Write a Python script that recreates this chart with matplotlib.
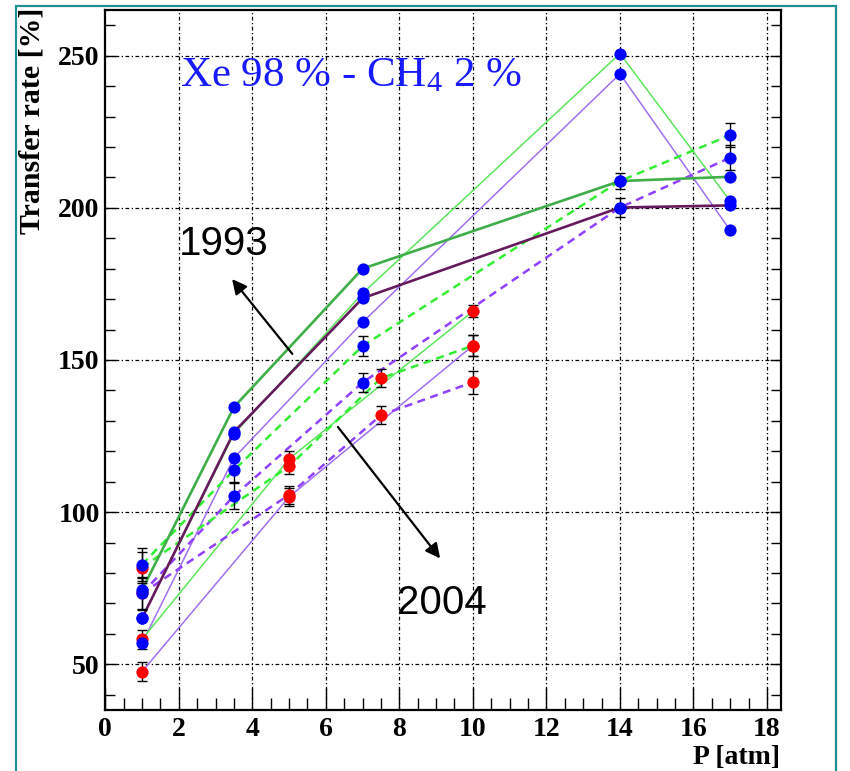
import matplotlib
matplotlib.use("Agg")
import matplotlib.pyplot as plt
from matplotlib.ticker import MultipleLocator
from matplotlib.patches import Rectangle

plt.rcParams['mathtext.fontset'] = 'custom'
plt.rcParams['mathtext.rm'] = 'Liberation Serif'
plt.rcParams['mathtext.it'] = 'Liberation Serif'

# ---- data: 1993 measurements (blue points) ----
x93 = [1, 3.5, 7, 14, 17]
dk_green_93 = [74.4, 134.5, 180.0, 208.8, 210.2]
dk_purple_93 = [65.1, 126.3, 170.3, 200.1, 200.8]
lt_green_93 = [65.1, 125.7, 171.9, 250.7, 202.2]
lt_purple_93 = [56.9, 117.8, 162.4, 244.0, 192.6]
dash_green_93 = [82.8, 113.8, 154.6, 208.8, 223.9]
dash_purple_93 = [73.3, 105.3, 142.6, 200.1, 216.5]
err_dash_green_93 = [5.5, 4.0, 3.3, 2.5, 4.0]
err_dash_purple_93 = [5.5, 4.3, 3.0, 3.0, 4.0]

# ---- data: 2004 measurements (red points) ----
x04_a = [1, 5, 10]
x04_b = [1, 5, 7.5, 10]
lt_green_04 = [58.2, 117.5, 166.0]
lt_purple_04 = [47.6, 105.0, 154.7]
dash_green_04 = [81.8, 115.1, 144.0, 154.7]
dash_purple_04 = [73.3, 105.7, 131.9, 142.7]
err_lt_green_04 = [3.0, 2.5, 2.0]
err_lt_purple_04 = [3.2, 3.0, 3.5]
err_dash_green_04 = [5.0, 2.5, 3.0, 3.5]
err_dash_purple_04 = [5.0, 3.0, 3.0, 3.8]

x_ticks = [0, 2, 4, 6, 8, 10, 12, 14, 16, 18]
y_ticks = [50, 100, 150, 200, 250]

C_DKG = '#3fae49'
C_DKP = '#651a5c'
C_LTG = '#5ce65c'
C_LTP = '#a070f0'
C_DSG = '#33ee33'
C_DSP = '#9040ff'
DASH = (0, (3.2, 2.2))

fig = plt.figure(figsize=(8.5, 7.71), dpi=100)
ax = fig.add_axes([105.2 / 850, 1 - 710 / 771, (781 - 105.2) / 850, (710 - 10) / 771])

# frame around the slide area
fig.patches.append(Rectangle((16 / 850, -0.05), (836 - 16) / 850, 1.05 - 6 / 771,
                             transform=fig.transFigure, fill=False,
                             edgecolor='#1f9090', linewidth=1.6, zorder=0))

ax.set_xlim(0, 18.38)
ax.set_ylim(35, 265)

# grid
for xv in x_ticks[1:]:
    ax.axvline(xv, color='black', lw=0.9, ls=(0, (3, 2, 1, 2)), zorder=1)
for yv in y_ticks:
    ax.axhline(yv, color='black', lw=0.9, ls=(0, (3, 2, 1, 2)), zorder=1)

# lines
ax.plot(x93, lt_green_93, color=C_LTG, lw=1.1, zorder=3)
ax.plot(x93, lt_purple_93, color=C_LTP, lw=1.1, zorder=3)
ax.plot(x04_a, lt_green_04, color=C_LTG, lw=1.1, zorder=3)
ax.plot(x04_a, lt_purple_04, color=C_LTP, lw=1.1, zorder=3)
ax.plot(x93, dash_green_93, color=C_DSG, lw=1.8, ls=DASH, zorder=3)
ax.plot(x93, dash_purple_93, color=C_DSP, lw=1.8, ls=DASH, zorder=3)
ax.plot(x04_b, dash_green_04, color=C_DSG, lw=1.8, ls=DASH, zorder=3)
ax.plot(x04_b, dash_purple_04, color=C_DSP, lw=1.8, ls=DASH, zorder=3)
ax.plot(x93, dk_green_93, color=C_DKG, lw=1.9, zorder=4)
ax.plot(x93, dk_purple_93, color=C_DKP, lw=1.9, zorder=4)

# error bars
eb = dict(fmt='none', ecolor='black', elinewidth=1.0, capsize=3.5, capthick=1.0, zorder=5)
ax.errorbar(x93, dash_green_93, yerr=err_dash_green_93, **eb)
ax.errorbar(x93, dash_purple_93, yerr=err_dash_purple_93, **eb)
ax.errorbar(x04_a, lt_green_04, yerr=err_lt_green_04, **eb)
ax.errorbar(x04_a, lt_purple_04, yerr=err_lt_purple_04, **eb)
ax.errorbar(x04_b, dash_green_04, yerr=err_dash_green_04, **eb)
ax.errorbar(x04_b, dash_purple_04, yerr=err_dash_purple_04, **eb)

# markers: 2004 red, then 1993 blue on top
mk = dict(ls='none', marker='o', ms=8.8, mec='none')
for xs, ys in [(x04_a, lt_green_04), (x04_a, lt_purple_04),
               (x04_b, dash_green_04), (x04_b, dash_purple_04)]:
    ax.plot(xs, ys, color='#ff0000', zorder=6, **mk)
for ys in [dk_green_93, dk_purple_93, lt_green_93, lt_purple_93,
           dash_green_93, dash_purple_93]:
    ax.plot(x93, ys, color='#0000ff', zorder=7, **mk)

# axes styling
for s in ax.spines.values():
    s.set_linewidth(1.6)
ax.xaxis.set_major_locator(MultipleLocator(2))
ax.xaxis.set_minor_locator(MultipleLocator(0.5))
ax.yaxis.set_major_locator(MultipleLocator(50))
ax.yaxis.set_minor_locator(MultipleLocator(10))
ax.tick_params(axis='x', which='major', direction='in', length=16, width=1.0, pad=5)
ax.tick_params(axis='x', which='minor', direction='in', length=8.5, width=1.0)
ax.tick_params(axis='y', which='major', direction='in', length=8, width=1.0, pad=4, right=True)
ax.tick_params(axis='y', which='minor', direction='in', length=7, width=1.0, right=True)
for lab in ax.get_xticklabels() + ax.get_yticklabels():
    lab.set_fontfamily('Liberation Serif')
    lab.set_fontweight('bold')
    lab.set_fontsize(20)

fig.text(32 / 850, 1 - 8 / 771, 'Transfer rate [%]', rotation=90, ha='center', va='top',
         fontfamily='Liberation Serif', fontweight='bold', fontsize=21.5)
fig.text(780 / 850, 1 - 758 / 771, 'P [atm]', ha='right', va='center',
         fontfamily='Liberation Serif', fontweight='bold', fontsize=20)

ax.text(2.03, 243.3, r'Xe 98 % - CH$_4$ 2 %', color='#1a1aff', ha='left', va='center',
        fontfamily='Liberation Serif', fontsize=31, zorder=8)

ax.text(3.23, 188.0, '1993', fontfamily='Liberation Sans', fontsize=29,
        ha='center', va='center', zorder=8)
ax.text(9.16, 70.0, '2004', fontfamily='Liberation Sans', fontsize=29,
        ha='center', va='center', zorder=8)

arrow = dict(arrowstyle='-|>', lw=1.6, color='black', mutation_scale=22, shrinkA=0, shrinkB=0)
ax.annotate('', xy=(3.45, 176.6), xytext=(5.09, 152.0), arrowprops=arrow, zorder=8)
ax.annotate('', xy=(9.11, 84.8), xytext=(6.33, 128.0), arrowprops=arrow, zorder=8)

fig.savefig('out.png', dpi=100)
